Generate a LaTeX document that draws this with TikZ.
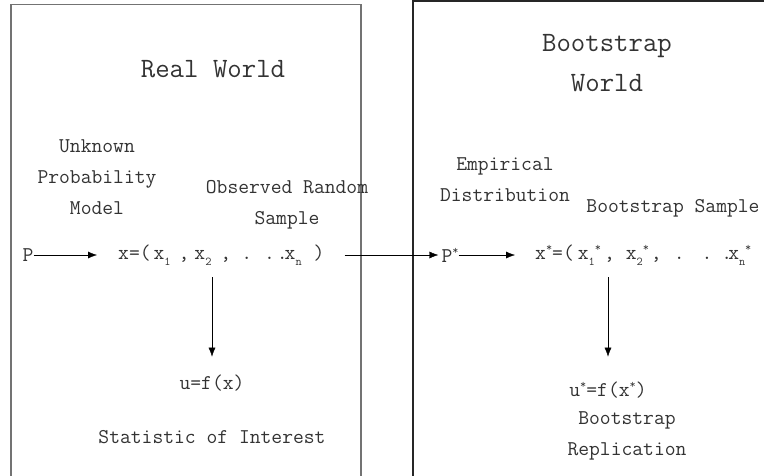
\documentclass[tikz,border=0pt]{standalone}
\usetikzlibrary{arrows.meta, positioning}
\tikzset{>= {Latex[length = 9pt, width = 7pt]},
         every node/.style = {font = \ttfamily\fontsize{21}{31}\selectfont,
                              text = black!80, align = center, inner sep = 0pt},
         title/.style = {font = \ttfamily\fontsize{28}{40}\selectfont},
         world/.style = {line width = 1.3pt}}
% small lowered index and raised star
\newcommand{\lowidx}[1]{\raisebox{-0.6ex}{\fontsize{12}{12}\selectfont #1}}
\newcommand{\upstar}{\raisebox{0.9ex}{\fontsize{12}{12}\selectfont *}}
\newcommand{\gap}[1]{\hspace{#1pt}}

\begin{document}
\begin{tikzpicture}[x = 1pt, y = -1pt]
        \useasboundingbox (0,0) rectangle (764,475);

        % the two worlds
        \draw[world, black!55] (11,490) |- (361,4.5) -- (361,490);
        \draw[world, black!85] (413,490) |- (780,1);

        \node[title] (rw) at (213,69)  {Real World};
        \node[title] (bw) at (607,63)  {Bootstrap\\World};

        \node (upm) at (97,177)  {Unknown\\Probability\\Model};
        \node (ors) at (287,205) {Observed Random\\Sample};
        \node (ed)  at (505,180) {Empirical\\Distribution};
        \node (bs)  at (673,208) {Bootstrap Sample};

        \node (p)               at (28,255)  {P};
        \node[anchor = west] (xs) at (118,255)
              {x=(\gap{3}x\lowidx{1}\gap{8},\gap{5}x\lowidx{2}\gap{9},\gap{10}.\gap{12}.\gap{2}.\gap{-3}x\lowidx{n}\gap{12})};
        \node (ps)              at (450,255) {P\upstar};
        \node[anchor = west] (xb) at (535,255)
              {x\upstar=(\gap{4}x\lowidx{1}\upstar\gap{3},\gap{11}x\lowidx{2}\upstar\gap{2},\gap{12}.\gap{17}.\gap{9}.\gap{-4}x\lowidx{n}\upstar\gap{12})};

        \node (u)   at (212,383) {u=f(x)};
        \node (soi) at (212,437) {Statistic of Interest};
        \node (ub)  at (608,390) {u\upstar=f(x\upstar)};
        \node (br)  at (627,436) {Bootstrap\\Replication};

        \path[->] (p)  edge[shorten >= 21pt]                    (xs)
                  (xs) edge[shorten <= 20pt, shorten >= 3pt]    (ps)
                  (ps) edge[shorten >= 20pt]                    (xb)
                  (u |- xs.south)  edge[shorten <= 12pt, shorten >= 18pt] (u)
                  (ub |- xb.south) edge[shorten <= 12pt, shorten >= 25pt] (ub);
\end{tikzpicture}
\end{document}
